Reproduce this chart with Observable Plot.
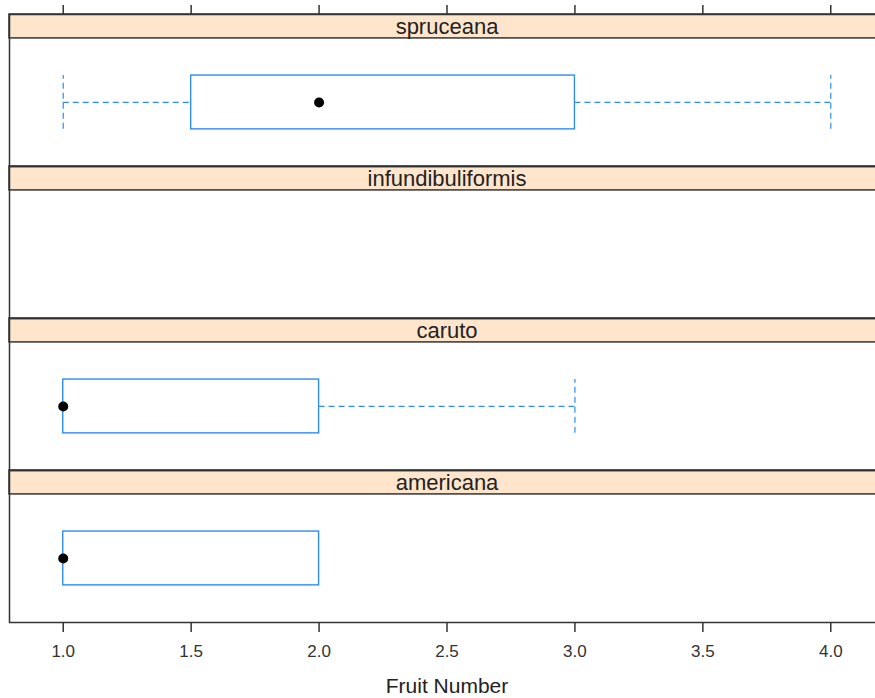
<!DOCTYPE html>
<html>
<head>
<meta charset="utf-8">
<script src="https://cdn.jsdelivr.net/npm/d3@7"></script>
<script src="https://cdn.jsdelivr.net/npm/@observablehq/plot@0.6"></script>
<style>
  html, body { margin: 0; padding: 0; background: #fff; overflow: hidden; }
  #chart { width: 875px; height: 698px; overflow: hidden; }
</style>
</head>
<body>
<div id="chart"></div>
<script>
// ---- data ----
const species = ["spruceana", "infundibuliformis", "caruto", "americana"];
const boxSpecies = ["spruceana", "caruto", "americana"];
const minVals = [1, 1, 1];
const q1Vals = [1.5, 1, 1];
const medianVals = [2, 1, 1];
const q3Vals = [3, 2, 2];
const maxVals = [4, 3, 2];
const tickValues = [1.0, 1.5, 2.0, 2.5, 3.0, 3.5, 4.0];
const xLabel = "Fruit Number";

const boxes = boxSpecies.map((s, i) => ({
  species: s, min: minVals[i], q1: q1Vals[i], med: medianVals[i], q3: q3Vals[i], max: maxVals[i]
}));

// ---- layout ----
const xDomain = [0.79, 4.21];
const cellH = 152.5, stripH = 24;
const stripY1 = cellH - stripH, stripY2 = cellH;
const mid = (cellH - stripH) / 2, half = 27;
const blue = "#2f8cf0";
const dark = "#333";
const dash = "6,4";
const font = "'Liberation Sans', Arial, sans-serif";

const chart = Plot.plot({
  width: 875,
  height: 698,
  marginTop: 13,
  marginBottom: 75,
  marginLeft: 9,
  marginRight: -9,
  style: { fontFamily: font, background: "#fff", color: "#222" },
  x: { domain: xDomain },
  y: { domain: [0, cellH], axis: null },
  fy: { domain: species, padding: 0, axis: null },
  marks: [
    Plot.rect(species, { fy: d => d, x1: xDomain[0], x2: xDomain[1], y1: stripY1, y2: stripY2, fill: "#ffe5cc", stroke: dark, strokeWidth: 1.5 }),
    Plot.text(species, { fy: d => d, x: (xDomain[0] + xDomain[1]) / 2, y: (stripY1 + stripY2) / 2, text: d => d, fontSize: 22, fill: "#222" }),
    Plot.ruleY(boxes, { fy: "species", x1: "min", x2: "q1", y: mid, stroke: blue, strokeWidth: 1.2, strokeDasharray: dash, filter: d => d.min < d.q1 }),
    Plot.ruleY(boxes, { fy: "species", x1: "q3", x2: "max", y: mid, stroke: blue, strokeWidth: 1.2, strokeDasharray: dash, filter: d => d.max > d.q3 }),
    Plot.ruleX(boxes, { fy: "species", x: "min", y1: mid - half, y2: mid + half, stroke: blue, strokeWidth: 1.2, strokeDasharray: dash, filter: d => d.min < d.q1 }),
    Plot.ruleX(boxes, { fy: "species", x: "max", y1: mid - half, y2: mid + half, stroke: blue, strokeWidth: 1.2, strokeDasharray: dash, filter: d => d.max > d.q3 }),
    Plot.rect(boxes, { fy: "species", x1: "q1", x2: "q3", y1: mid - half, y2: mid + half, fill: "#fff", stroke: blue, strokeWidth: 1.4 }),
    Plot.dot(boxes, { fy: "species", x: "med", y: mid, r: 5, fill: "black" }),
    Plot.frame({ stroke: dark, strokeWidth: 1.5 }),
    Plot.axisX({ anchor: "top", facetAnchor: "top", ticks: tickValues, tickSize: 10, tickFormat: () => "", label: null, stroke: dark, strokeWidth: 1.5 }),
    Plot.axisX({ anchor: "bottom", facetAnchor: "bottom", ticks: tickValues, tickSize: 10, tickPadding: 12, tickFormat: d3.format(".1f"), fontSize: 17, fill: "#333", stroke: dark, strokeWidth: 1.5,
      label: xLabel, labelAnchor: "center", labelArrow: "none", labelOffset: 70 })
  ]
});
// enlarge the axis title to match the reference
d3.select(chart).selectAll('g[aria-label="x-axis label"] text').style("font-size", "21px").attr("fill", "#222");
document.getElementById("chart").appendChild(chart);
</script>
</body>
</html>
